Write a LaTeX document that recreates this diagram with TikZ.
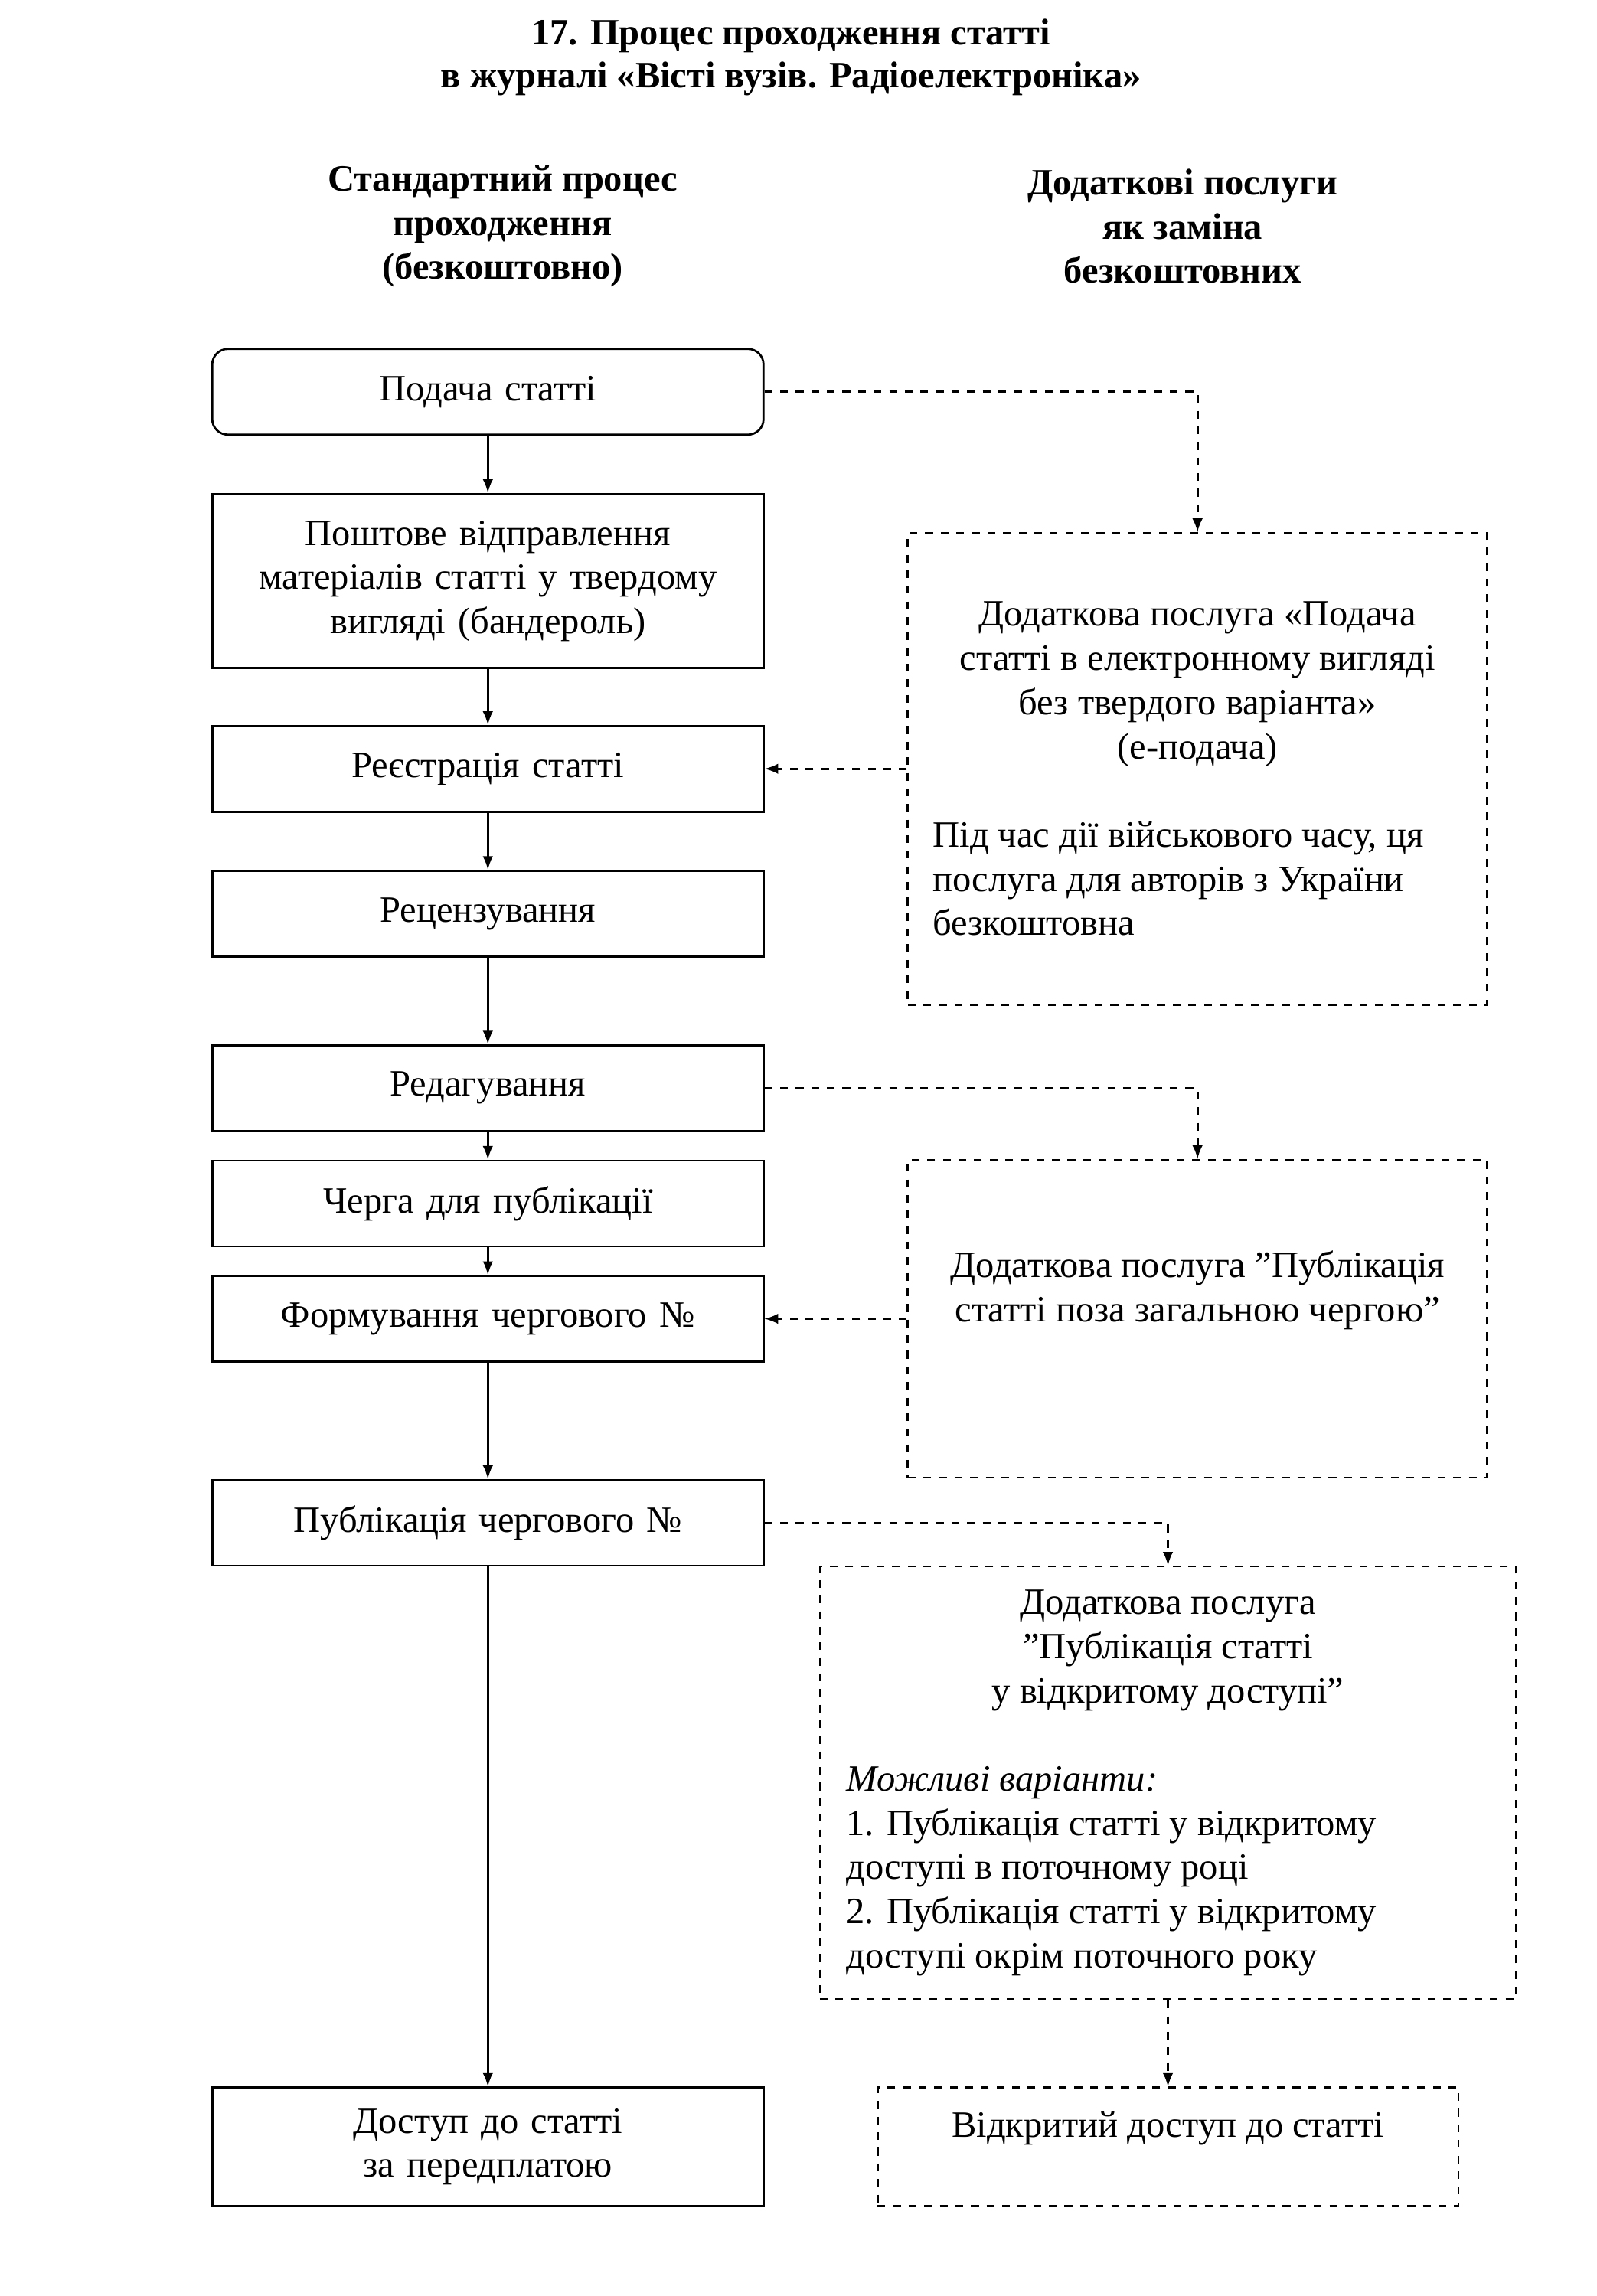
\documentclass[tikz,border=0pt]{standalone}
\usepackage{fontspec}
\setmainfont{Liberation Serif}
\usetikzlibrary{arrows}
\tikzstyle{stepbox} = [rectangle, draw=black, thick, minimum width=7.46cm, minimum height=1.16cm, text width=7.2cm, align=center, inner sep=0pt]
\tikzstyle{extra} = [rectangle, draw=black, thick, dashed, inner sep=0pt, align=center]
\tikzstyle{arrow} = [thick,->,>=latex]
\tikzstyle{darrow} = [thick,dashed,->,>=latex]
\newcommand{\lft}[2]{\makebox[#1][l]{#2}}
\newcommand{\qq}{\char"22}

\begin{document}
\begin{tikzpicture}[x=0.02cm, y=-0.02cm, font=\fontsize{14.3}{17}\selectfont]
                \useasboundingbox (0,0) rectangle (1080,1553);
                \node (title) [align=center, font=\bfseries\fontsize{14.3}{16.5}\selectfont] at (535,39) {17. Процес проходження статті\\в журналі «Вісті вузів. Радіоелектроніка»};
                \node (headl) [align=center, font=\bfseries\fontsize{14.3}{17}\selectfont] at (340,153) {Стандартний процес\\проходження\\(безкоштовно)};
                \node (headr) [align=center, font=\bfseries\fontsize{14.3}{17}\selectfont] at (800,153) {Додаткові послуги\\як заміна\\безкоштовних};

                \node (submit) [stepbox, rounded corners=6pt] at (330,265) {Подача статті};
                \node (post) [stepbox, minimum height=2.36cm] at (330,393) {Поштове відправлення\\матеріалів статті у твердому\\вигляді (бандероль)};
                \node (reg) [stepbox] at (330,520) {Реєстрація статті};
                \node (review) [stepbox] at (330,618) {Рецензування};
                \node (edit) [stepbox] at (330,736) {Редагування};
                \node (queue) [stepbox] at (330,814) {Черга для публікації};
                \node (issue) [stepbox] at (330,892) {Формування чергового №};
                \node (pub) [stepbox] at (330,1030) {Публікація чергового №};
                \node (access) [stepbox, minimum height=1.6cm] at (330,1452) {Доступ до статті\\за передплатою};

                \node (esub) [extra, minimum width=7.84cm, minimum height=6.38cm] at (810,520) {Додаткова послуга «Подача\\статті в електронному вигляді\\без твердого варіанта»\\(е-подача)\\[17pt]\lft{7.16cm}{Під час дії військового часу, ця}\\\lft{7.16cm}{послуга для авторів з України}\\\lft{7.16cm}{безкоштовна}};
                \node (fast) [extra, minimum width=7.84cm, minimum height=4.3cm] at (810,892) {Додаткова послуга \qq Публікація\\статті поза загальною чергою\qq\\[8pt]};
                \node (open) [extra, minimum width=9.42cm, minimum height=5.86cm] at (790,1206) {Додаткова послуга\\\qq Публікація статті\\у відкритому доступі\qq\\[17pt]\lft{8.7cm}{\textit{Можливі варіанти:}}\\\lft{8.7cm}{1. Публікація статті у відкритому}\\\lft{8.7cm}{доступі в поточному році}\\\lft{8.7cm}{2. Публікація статті у відкритому}\\\lft{8.7cm}{доступі окрім поточного року}};
                \node (openacc) [extra, minimum width=7.86cm, minimum height=1.6cm] at (790,1452) {Відкритий доступ до статті\\\mbox{}};
                \coordinate (c1) at (810,265);
                \coordinate (c2) at (810,736);
                \coordinate (c3) at (790,1030);

                \draw [arrow] (submit) -- (post);
                \draw [arrow] (post) -- (reg);
                \draw [arrow] (reg) -- (review);
                \draw [arrow] (review) -- (edit);
                \draw [arrow] (edit) -- (queue);
                \draw [arrow] (queue) -- (issue);
                \draw [arrow] (issue) -- (pub);
                \draw [arrow] (pub) -- (access);
                \draw [darrow] (submit) -- (c1) -- (esub);
                \draw [darrow] (esub) -- (reg);
                \draw [darrow] (edit) -- (c2) -- (fast);
                \draw [darrow] (fast) -- (issue);
                \draw [darrow] (pub) -- (c3) -- (open);
                \draw [darrow] (open) -- (openacc);
            \end{tikzpicture}
\end{document}
